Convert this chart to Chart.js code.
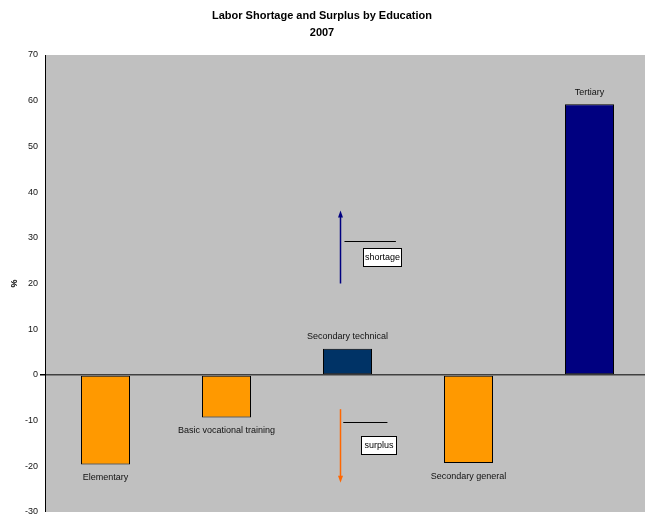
<!DOCTYPE html>
<html>
<head>
<meta charset="utf-8">
<script src="https://cdn.jsdelivr.net/npm/chart.js@4.4.1/dist/chart.umd.min.js"></script>
<style>
  html, body { margin: 0; padding: 0; background: #fff; overflow: hidden; }
  #wrap { position: relative; width: 660px; height: 522px; }
</style>
</head>
<body>
<div id="wrap"><canvas id="laborChart"></canvas></div>
<script>
// Data
const categories = ['Elementary', 'Basic vocational training', 'Secondary technical', 'Secondary general', 'Tertiary'];
const balance = [-19.6, -9.3, 5.7, -19.3, 59.2];
const barColors = ['#FF9900', '#FF9900', '#003366', '#FF9900', '#000080'];
const yTicks = [-30, -20, -10, 0, 10, 20, 30, 40, 50, 60, 70];

// Arrow / note annotations, in data units (x = category index)
const notes = [
  { label: 'shortage', color: '#000080', x: 1.935, from: 20, to: 36,
    line: [1.975, 2.40, 29.4], box: [2.13, 2.44, 27.7, 23.9] },
  { label: 'surplus', color: '#FF6600', x: 1.935, from: -7.5, to: -23.6,
    line: [1.965, 2.33, -10.2], box: [2.11, 2.40, -13.4, -17.3] }
];

const FONT = '"Liberation Sans", Arial, sans-serif';

const chartDecor = {
  id: 'chartDecor',
  beforeDraw(chart) {
    const { ctx, chartArea: a } = chart;
    ctx.save();
    ctx.fillStyle = '#C0C0C0';
    ctx.fillRect(a.left, a.top, a.right - a.left, a.bottom - a.top);
    ctx.restore();
  },
  afterDatasetsDraw(chart) {
    const { ctx, scales: { x, y } } = chart;
    ctx.save();
    // bar labels
    ctx.font = '9px ' + FONT;
    ctx.fillStyle = '#111';
    ctx.textAlign = 'center';
    ctx.textBaseline = 'middle';
    balance.forEach((v, i) => {
      const px = x.getPixelForValue(i);
      const py = y.getPixelForValue(v) + (v < 0 ? 13 : -12);
      ctx.fillText(categories[i], px, py);
    });

    // arrows + notes
    notes.forEach(n => {
      const ax = Math.round(x.getPixelForValue(n.x)) + 0.5;
      const y0 = y.getPixelForValue(n.from);
      const y1 = y.getPixelForValue(n.to);
      const dir = y1 < y0 ? -1 : 1;
      ctx.strokeStyle = n.color;
      ctx.fillStyle = n.color;
      ctx.lineWidth = 1.5;
      ctx.beginPath();
      ctx.moveTo(ax, y0);
      ctx.lineTo(ax, y1 - dir * 5);
      ctx.stroke();
      ctx.beginPath();
      ctx.moveTo(ax, y1);
      ctx.lineTo(ax - 2.5, y1 - dir * 7);
      ctx.lineTo(ax + 2.5, y1 - dir * 7);
      ctx.closePath();
      ctx.fill();

      // leader line
      const ly = Math.round(y.getPixelForValue(n.line[2])) + 0.5;
      ctx.strokeStyle = '#000';
      ctx.lineWidth = 1;
      ctx.beginPath();
      ctx.moveTo(x.getPixelForValue(n.line[0]), ly);
      ctx.lineTo(x.getPixelForValue(n.line[1]), ly);
      ctx.stroke();

      // text box
      const bx0 = Math.round(x.getPixelForValue(n.box[0])) + 0.5;
      const bx1 = Math.round(x.getPixelForValue(n.box[1])) + 0.5;
      const by0 = Math.round(y.getPixelForValue(n.box[2])) + 0.5;
      const by1 = Math.round(y.getPixelForValue(n.box[3])) + 0.5;
      ctx.fillStyle = '#fff';
      ctx.fillRect(bx0, by0, bx1 - bx0, by1 - by0);
      ctx.strokeRect(bx0, by0, bx1 - bx0, by1 - by0);
      ctx.fillStyle = '#000';
      ctx.font = '9px ' + FONT;
      ctx.fillText(n.label, (bx0 + bx1) / 2, (by0 + by1) / 2 + 0.5);
    });
    ctx.restore();
  },
  afterDraw(chart) {
    const { ctx, chartArea: a } = chart;
    ctx.save();
    ctx.fillStyle = '#000';
    ctx.textAlign = 'center';
    ctx.textBaseline = 'middle';
    ctx.font = 'bold 11px ' + FONT;
    ctx.fillText('Labor Shortage and Surplus by Education', 322, 16);
    ctx.fillText('2007', 322, 33);
    // y axis title
    ctx.translate(15, (a.top + a.bottom) / 2);
    ctx.rotate(-Math.PI / 2);
    ctx.font = 'bold 9px ' + FONT;
    ctx.fillText('%', 0, 0);
    ctx.restore();
  }
};

const ctx = document.getElementById('laborChart').getContext('2d');
const laborChart = new Chart(ctx, {
  type: 'bar',
  data: {
    labels: categories,
    datasets: [{
      data: balance,
      backgroundColor: barColors,
      borderColor: '#000',
      borderWidth: 1,
      borderSkipped: false,
      barPercentage: 0.405,
      categoryPercentage: 1
    }]
  },
  options: {
    responsive: true,
    maintainAspectRatio: false,
    animation: false,
    layout: { padding: { top: 55, right: 10, bottom: 10, left: 0 } },
    plugins: {
      legend: { display: false },
      tooltip: { enabled: false },
      title: { display: false }
    },
    scales: {
      x: { display: false, offset: true },
      y: {
        min: -30,
        max: 70,
        afterFit(scale) { scale.width = 45; },
        afterBuildTicks(scale) { scale.ticks = yTicks.map(v => ({ value: v })); },
        border: { display: true, color: '#000', width: 1 },
        grid: {
          drawOnChartArea: true,
          drawTicks: true,
          tickLength: 5,
          tickColor: '#000',
          color: c => (c.tick && c.tick.value === 0 ? '#404040' : 'rgba(0,0,0,0)'),
          lineWidth: c => (c.tick && c.tick.value === 0 ? 1.5 : 0)
        },
        ticks: {
          padding: 2,
          color: '#111',
          font: { family: FONT, size: 9 }
        }
      }
    }
  },
  plugins: [chartDecor]
});
</script>
</body>
</html>
